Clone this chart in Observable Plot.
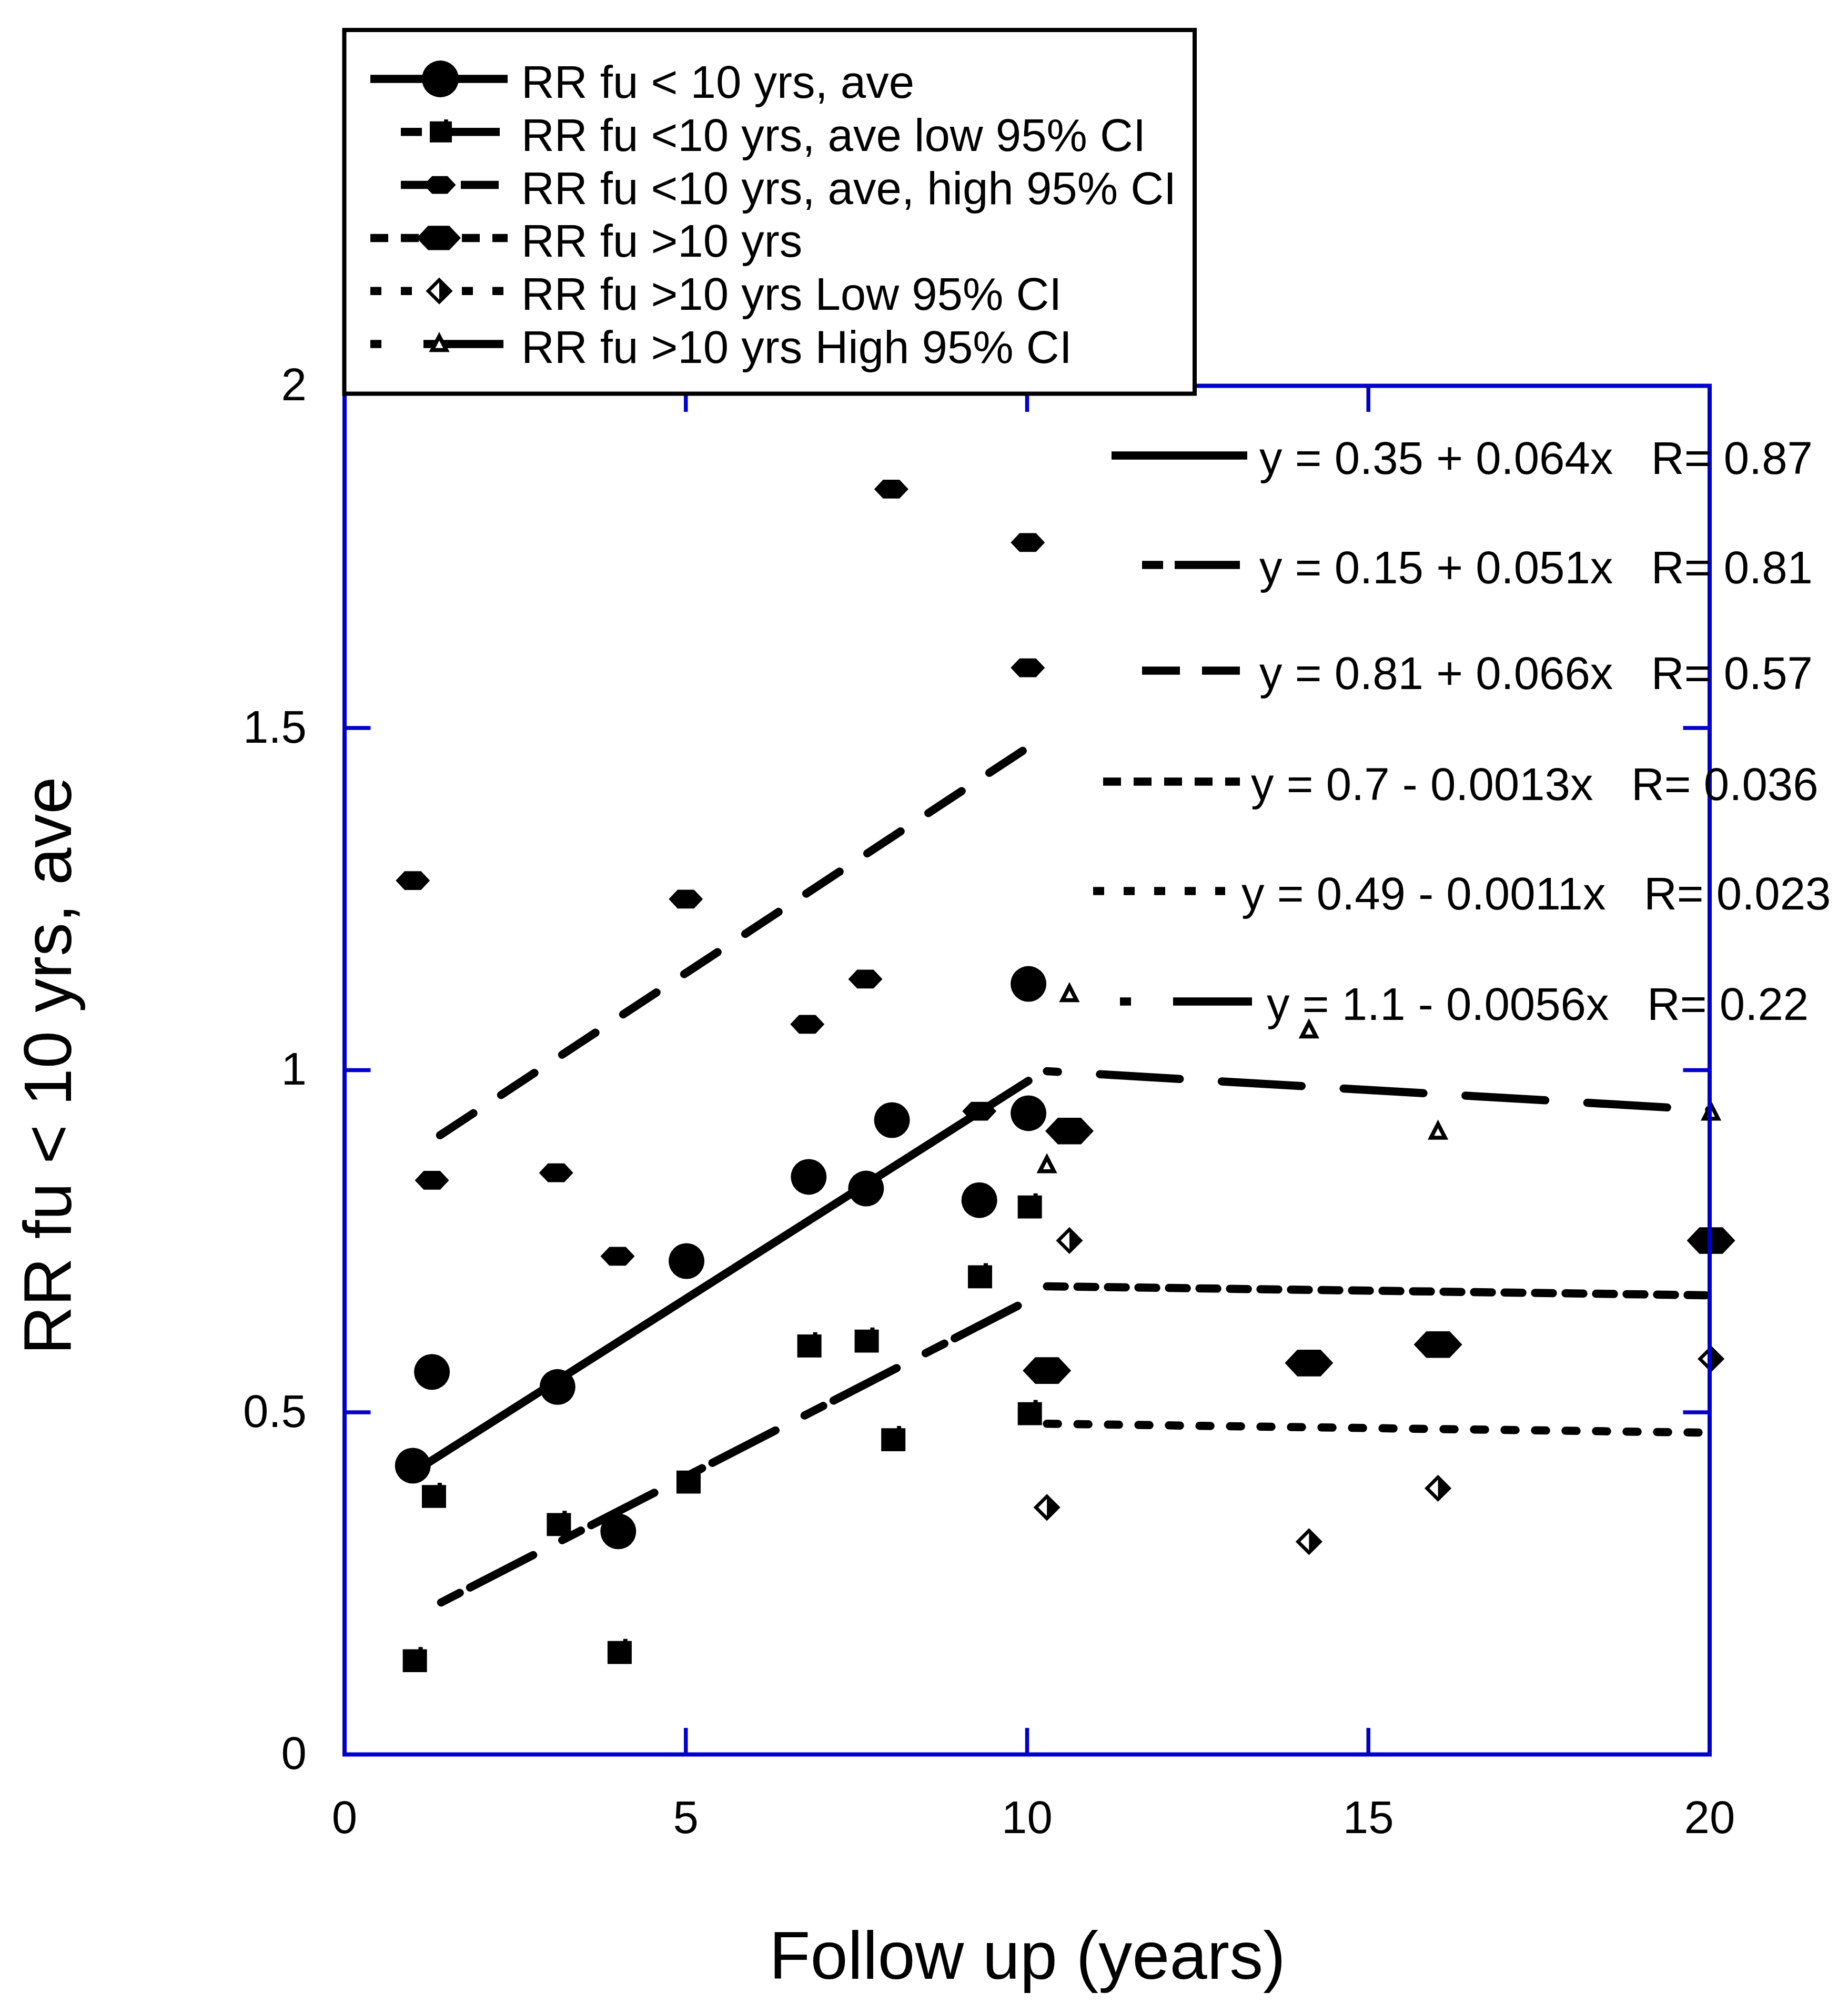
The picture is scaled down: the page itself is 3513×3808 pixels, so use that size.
<!DOCTYPE html>
<html>
<head>
<meta charset="utf-8">
<script src="https://cdn.jsdelivr.net/npm/d3@7"></script>
<script src="https://cdn.jsdelivr.net/npm/@observablehq/plot@0.6"></script>
<style>
html, body { margin: 0; padding: 0; background: #fff; }
svg text { font-family: 'Liberation Sans', Arial, sans-serif; }
</style>
</head>
<body>
<div id="chart"></div>
<script>
// ------------------------------------------------------------------ data
const seriesNames = [
  "RR fu < 10 yrs, ave",
  "RR fu <10 yrs, ave low 95% CI",
  "RR fu <10 yrs, ave, high 95% CI",
  "RR fu >10 yrs",
  "RR fu >10 yrs Low 95% CI",
  "RR fu >10 yrs High 95% CI"
];
const equations = [
  "y = 0.35 + 0.064x   R= 0.87",
  "y = 0.15 + 0.051x   R= 0.81",
  "y = 0.81 + 0.066x   R= 0.57",
  "y = 0.7 - 0.0013x   R= 0.036",
  "y = 0.49 - 0.0011x   R= 0.023",
  "y = 1.1 - 0.0056x   R= 0.22"
];

// follow-up < 10 years
const aveX  = [1.00, 1.28, 3.12, 4.01, 5.01, 6.80, 7.64, 8.02, 9.30, 10.02, 10.02];
const aveY  = [0.422, 0.559, 0.537, 0.326, 0.721, 0.844, 0.827, 0.927, 0.810, 0.937, 1.126];
const lowX  = [1.03, 1.31, 3.14, 4.03, 5.04, 6.81, 7.65, 8.04, 9.31, 10.04, 10.04];
const lowY  = [0.137, 0.377, 0.336, 0.149, 0.398, 0.597, 0.604, 0.460, 0.698, 0.800, 0.498];
const highX = [1.00, 1.28, 3.10, 4.00, 5.00, 6.78, 7.63, 8.01, 9.30, 10.01, 10.01];
const highY = [1.277, 0.839, 0.850, 0.728, 1.250, 1.067, 1.133, 1.849, 0.940, 1.771, 1.588];

// follow-up > 10 years
const longX     = [10.29, 10.62, 14.13, 16.02, 20.02];
const longAveY  = [0.561, 0.911, 0.572, 0.599, 0.751];
const longLowY  = [0.361, 0.751, 0.311, 0.389, 0.578];
const longHighY = [0.861, 1.111, 1.058, 0.910, 0.938];

const xTicks = [0, 5, 10, 15, 20];
const xTickLabels = ["0", "5", "10", "15", "20"];
const yTicks = [0, 0.5, 1, 1.5, 2];
const yTickLabels = ["0", "0.5", "1", "1.5", "2"];
const innerXTicks = [5, 10, 15];
const innerYTicks = [0.5, 1, 1.5];

const xTitle = "Follow up (years)";
const yTitle = "RR fu < 10 yrs, ave";

// ------------------------------------------------------------------ layout / style
const W = 3513, H = 3808;
const mL = 654.5, mR = W - 3249.5, mT = 733, mB = H - 3335;
const frameW = W - mL - mR, frameH = H - mT - mB;
const blue = "#0000cc";
const lineW = 15.5;
const FS = 87, TITLE_FS = 128;

const toPts = (xs, ys) => xs.map((x, i) => ({x, y: ys[i]}));
const ave = toPts(aveX, aveY), low = toPts(lowX, lowY), high = toPts(highX, highY);
const lAve = toPts(longX, longAveY), lLow = toPts(longX, longLowY), lHigh = toPts(longX, longHighY);

// custom marker shapes (d3-symbol compatible)
const sym = f => ({draw(c, size) { const r = Math.sqrt(size / Math.PI); f(c, r); }});
const hexSym = sym((c, r) => {
  const h = r * 0.55, t = r * 0.48;
  c.moveTo(-r, 0); c.lineTo(-t, -h); c.lineTo(t, -h); c.lineTo(r, 0);
  c.lineTo(t, h); c.lineTo(-t, h); c.closePath();
});
const squareSym = sym((c, r) => {
  const b = r * 0.95;
  c.moveTo(-r, -b); c.lineTo(r * 0.3, -b); c.lineTo(r * 0.3, -r * 1.13);
  c.lineTo(r * 0.65, -r * 1.13); c.lineTo(r * 0.65, -b); c.lineTo(r, -b);
  c.lineTo(r, b); c.lineTo(-r, b); c.closePath();
});
const diamondSym = sym((c, r) => {
  c.moveTo(0, -r); c.lineTo(r, 0); c.lineTo(0, r); c.lineTo(-r, 0); c.closePath();
});
const halfDiamondSym = sym((c, r) => {
  c.moveTo(0, -r); c.lineTo(r, 0); c.lineTo(0, r); c.closePath();
});
const triSym = sym((c, r) => {
  c.moveTo(0, -r * 1.1); c.lineTo(r, r * 0.85); c.lineTo(-r, r * 0.85); c.closePath();
});

const lineStyles = [
  {dash: null, off: 0},
  {dash: "40,22,135,62", off: 203},
  {dash: "76,63", off: 77},
  {dash: "34,24", off: 0},
  {dash: "21,37", off: 0},
  {dash: "152,80", off: 131}
];
const sampleDash = [null, "40,22,135,62", "72,42", "34,24", "21,37", "152,80"];
const sampleOff = [0, 0, 0, 0, 0, 131];

const reg = (data, s) => Plot.linearRegressionY(data, {
  x: "x", y: "y", ci: 0, stroke: "black", strokeWidth: lineW,
  strokeDasharray: s.dash ?? undefined, strokeDashoffset: s.off
});

const chart = Plot.plot({
  width: W, height: H,
  marginLeft: mL, marginRight: mR, marginTop: mT, marginBottom: mB,
  x: {domain: [0, 20]},
  y: {domain: [0, 2]},
  style: {fontFamily: "'Liberation Sans', Arial, sans-serif", fontSize: FS + "px", background: "white", color: "black", overflow: "visible"},
  marks: [
    reg(ave, lineStyles[0]),
    reg(low, lineStyles[1]),
    reg(high, lineStyles[2]),
    reg(lAve, lineStyles[3]),
    reg(lLow, lineStyles[4]),
    reg(lHigh, lineStyles[5]),
    Plot.dot(ave, {x: "x", y: "y", symbol: "circle", r: 34, fill: "black"}),
    Plot.dot(low, {x: "x", y: "y", symbol: squareSym, r: 23, fill: "black"}),
    Plot.dot(high, {x: "x", y: "y", symbol: hexSym, r: 32.5, fill: "black"}),
    Plot.dot(lAve, {x: "x", y: "y", symbol: hexSym, r: 46, fill: "black"}),
    Plot.dot(lLow, {x: "x", y: "y", symbol: diamondSym, r: 21, fill: "white", stroke: "black", strokeWidth: 6.5}),
    Plot.dot(lLow, {x: "x", y: "y", symbol: halfDiamondSym, r: 21, fill: "black"}),
    Plot.dot(lHigh, {x: "x", y: "y", symbol: triSym, r: 13.5, fill: "white", stroke: "black", strokeWidth: 7.5}),
    Plot.frame({stroke: blue, strokeWidth: 8}),
    Plot.tickX(innerXTicks, {x: d => d, stroke: blue, strokeWidth: 7.5, insetTop: frameH - 50}),
    Plot.tickX(innerXTicks, {x: d => d, stroke: blue, strokeWidth: 7.5, insetBottom: frameH - 50}),
    Plot.tickY(innerYTicks, {y: d => d, stroke: blue, strokeWidth: 7.5, insetRight: frameW - 50}),
    Plot.tickY(innerYTicks, {y: d => d, stroke: blue, strokeWidth: 7.5, insetLeft: frameW - 50}),
    Plot.axisX(xTicks, {anchor: "bottom", tickSize: 0, tickPadding: 88, label: null, fontSize: FS,
      tickFormat: d => xTickLabels[xTicks.indexOf(d)]}),
    Plot.axisY(yTicks, {anchor: "left", tickSize: 0, tickPadding: 72, label: null, fontSize: FS,
      tickFormat: d => yTickLabels[yTicks.indexOf(d)]})
  ]
});
document.getElementById("chart").appendChild(chart);

// ------------------------------------------------------------------ overlays (legend, equations, titles)
const svg = d3.select(chart);
const font = "'Liberation Sans', Arial, sans-serif";

const markerSpec = [
  {type: d3.symbolCircle, r: 35, fill: "black"},
  {type: squareSym, r: 21, fill: "black"},
  {type: hexSym, r: 30.5, fill: "black"},
  {type: hexSym, r: 42, fill: "black"},
  {type: diamondSym, r: 21, fill: "white", stroke: "black", sw: 6.5, half: true},
  {type: triSym, r: 13.5, fill: "white", stroke: "black", sw: 7.5}
];
const symPath = (t, r) => d3.symbol(t, Math.PI * r * r)();

// legend box
const lg = svg.append("g");
lg.append("rect").attr("x", 654.5).attr("y", 57).attr("width", 2271 - 654.5).attr("height", 748.5 - 57)
  .attr("fill", "white").attr("stroke", "black").attr("stroke-width", 8);

const legendSample = [[704, 965], [762, 950], [762, 950], [704, 965], [704, 960], [704, 958]];
const legendMarkX = [837, 838, 836, 834, 835, 835];
seriesNames.forEach((name, i) => {
  const cy = 150 + 100.8 * i;
  const ln = lg.append("line").attr("x1", legendSample[i][0]).attr("x2", legendSample[i][1])
    .attr("y1", cy).attr("y2", cy).attr("stroke", "black").attr("stroke-width", lineW);
  if (sampleDash[i]) ln.attr("stroke-dasharray", sampleDash[i]).attr("stroke-dashoffset", sampleOff[i]);
  const m = markerSpec[i];
  const p = lg.append("path").attr("d", symPath(m.type, m.r))
    .attr("transform", `translate(${legendMarkX[i]},${cy})`).attr("fill", m.fill);
  if (m.stroke) p.attr("stroke", m.stroke).attr("stroke-width", m.sw);
  if (m.half) lg.append("path").attr("d", symPath(halfDiamondSym, m.r))
    .attr("transform", `translate(${legendMarkX[i]},${cy})`).attr("fill", "black");
  lg.append("text").attr("x", 991).attr("y", cy + 36).attr("text-anchor", "start")
    .attr("font-size", FS).attr("font-family", font).attr("fill", "black").text(name);
});

// regression equations
const eg = svg.append("g");
const eqSample = [[2113, 2371], [2171, 2357], [2171, 2357], [2097, 2357], [2078, 2329], [2129, 2380]];
const eqTextX = [2394, 2394, 2394, 2378, 2360, 2408];
const eqBase = [901, 1109, 1310, 1521, 1729, 1939];
equations.forEach((eq, i) => {
  const ly = eqBase[i] - 35;
  const ln = eg.append("line").attr("x1", eqSample[i][0]).attr("x2", eqSample[i][1])
    .attr("y1", ly).attr("y2", ly).attr("stroke", "black").attr("stroke-width", lineW);
  if (sampleDash[i]) ln.attr("stroke-dasharray", sampleDash[i]).attr("stroke-dashoffset", sampleOff[i]);
  eg.append("text").attr("x", eqTextX[i]).attr("y", eqBase[i]).attr("text-anchor", "start")
    .attr("font-size", FS).attr("font-family", font).attr("fill", "black").style("white-space", "pre")
    .text(eq.replace(/ {3}/g, "\u00a0\u00a0\u00a0"));
});

// axis titles
svg.append("text").attr("x", 1953).attr("y", 3762).attr("text-anchor", "middle")
  .attr("font-size", TITLE_FS).attr("font-family", font).attr("fill", "black").text(xTitle);
svg.append("text").attr("transform", "translate(135,2026) rotate(-90)").attr("text-anchor", "middle")
  .attr("font-size", TITLE_FS).attr("font-family", font).attr("fill", "black").text(yTitle);
</script>
</body>
</html>
